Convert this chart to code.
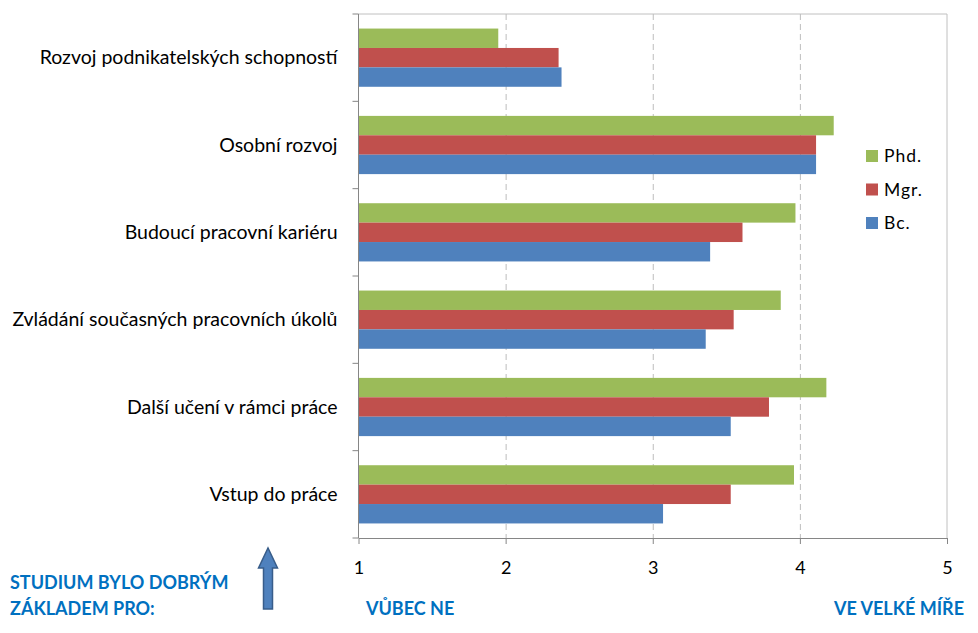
<!DOCTYPE html>
<html>
<head>
<meta charset="utf-8">
<script src="https://cdn.jsdelivr.net/npm/d3@7"></script>
<style>
  body { margin: 0; background: #fff; }
  svg text { font-family: Lato, "Open Sans", sans-serif; }
</style>
</head>
<body>
<figure style="margin:0"></figure>
<script>
const categories = [
  "Rozvoj podnikatelských schopností",
  "Osobní rozvoj",
  "Budoucí pracovní kariéru",
  "Zvládání současných pracovních úkolů",
  "Další učení v rámci práce",
  "Vstup do práce",
];
const seriesNames = ["Phd.", "Mgr.", "Bc."];
const seriesColors = ["#9bbb59", "#c0504d", "#4f81bd"];
const phd = [1.95, 4.23, 3.97, 3.87, 4.18, 3.96];
const mgr = [2.36, 4.11, 3.61, 3.55, 3.79, 3.53];
const bc = [2.38, 4.11, 3.39, 3.36, 3.53, 3.07];
const xTicks = [1, 2, 3, 4, 5];

const width = 978;
const height = 633;
const margin = { top: 14, right: 31, bottom: 95, left: 358.5 };
const axisColor = "#868686";
const blue = "#0070c0";

const svg = d3
  .select("figure")
  .append("svg")
  .attr("width", width)
  .attr("height", height);

const x = d3
  .scaleLinear()
  .domain([1, 5])
  .range([margin.left, width - margin.right]);

const y = d3
  .scaleBand()
  .domain(categories)
  .range([margin.top, height - margin.bottom]);

const ySeries = d3
  .scaleBand()
  .domain(seriesNames)
  .range([0, y.bandwidth()])
  .paddingInner(0)
  .paddingOuter(0.75);

// plot frame (top/right)
svg
  .append("path")
  .attr("d", `M${x(1)},${y.range()[0]}H${x(5)}V${y.range()[1]}`)
  .attr("fill", "none")
  .attr("stroke", "#c0c0c0");

// dashed gridlines
svg
  .append("g")
  .selectAll("line")
  .data(xTicks.slice(1, -1))
  .join("line")
  .attr("x1", (d) => x(d) + 0.5)
  .attr("x2", (d) => x(d) + 0.5)
  .attr("y1", y.range()[0])
  .attr("y2", y.range()[1])
  .attr("stroke", "#bdbdbd")
  .attr("stroke-dasharray", "6,4");

const rows = categories.map((c, i) => ({
  category: c,
  values: [phd[i], mgr[i], bc[i]],
}));

svg
  .append("g")
  .selectAll("g")
  .data(rows)
  .join("g")
  .attr("transform", (d) => `translate(0,${y(d.category)})`)
  .selectAll("rect")
  .data((d) => d.values.map((v, j) => ({ name: seriesNames[j], v, j })))
  .join("rect")
  .attr("x", x(1))
  .attr("y", (d) => ySeries(d.name))
  .attr("width", (d) => x(d.v) - x(1))
  .attr("height", ySeries.bandwidth())
  .attr("fill", (d) => seriesColors[d.j]);

// x axis
const xAxis = svg
  .append("g")
  .attr("transform", `translate(0,${y.range()[1]})`)
  .call(
    d3
      .axisBottom(x)
      .tickValues(xTicks)
      .tickFormat(d3.format("d"))
      .tickSize(6)
      .tickPadding(17)
      .tickSizeOuter(0)
  );
xAxis.select(".domain").attr("stroke", axisColor);
xAxis.selectAll(".tick line").attr("stroke", axisColor);
xAxis
  .selectAll(".tick text")
  .attr("font-size", 18)
  .attr("fill", "#000");

// y axis: ticks at category boundaries
const yAxisG = svg.append("g");
yAxisG
  .append("line")
  .attr("x1", x(1))
  .attr("x2", x(1))
  .attr("y1", y.range()[0])
  .attr("y2", y.range()[1])
  .attr("stroke", axisColor);
yAxisG
  .selectAll("line.tick")
  .data(d3.range(categories.length + 1))
  .join("line")
  .attr("class", "tick")
  .attr("x1", x(1) - 6)
  .attr("x2", x(1))
  .attr("y1", (i) => y.range()[0] + i * y.step())
  .attr("y2", (i) => y.range()[0] + i * y.step())
  .attr("stroke", axisColor);
yAxisG
  .selectAll("text")
  .data(categories)
  .join("text")
  .attr("x", x(1) - 21)
  .attr("y", (d) => y(d) + y.bandwidth() / 2)
  .attr("dy", "0.35em")
  .attr("text-anchor", "end")
  .attr("font-size", 19.5)
  .attr("fill", "#000")
  .text((d) => d);

// legend
const legend = svg
  .append("g")
  .attr("transform", "translate(866,150)")
  .selectAll("g")
  .data(seriesNames)
  .join("g")
  .attr("transform", (d, i) => `translate(0,${i * 33.5})`);
legend
  .append("rect")
  .attr("width", 12)
  .attr("height", 12)
  .attr("fill", (d, i) => seriesColors[i]);
legend
  .append("text")
  .attr("x", 18)
  .attr("y", 6)
  .attr("dy", "0.35em")
  .attr("font-size", 17.5)
  .attr("letter-spacing", 1)
  .attr("fill", "#000")
  .text((d) => d);

// bottom notes
const note = (txt, xPos, yPos, anchor) =>
  svg
    .append("text")
    .attr("x", xPos)
    .attr("y", yPos)
    .attr("text-anchor", anchor)
    .attr("font-size", 18)
    .attr("font-weight", "bold")
    .attr("fill", blue)
    .text(txt);
note("STUDIUM BYLO DOBRÝM", 10, 589, "start");
note("ZÁKLADEM PRO:", 10, 615, "start");
note("VŮBEC NE", 366, 615, "start");
note("VE VELKÉ MÍŘE", 964, 615, "end");

// arrow
const ax = 268;
svg
  .append("path")
  .attr(
    "d",
    `M${ax - 4.5},609V568H${ax - 9.5}L${ax},548L${ax + 9.5},568H${ax + 4.5}V609Z`
  )
  .attr("fill", "#4f81bd")
  .attr("stroke", "#385d8a")
  .attr("stroke-width", 1.5);
</script>
</body>
</html>
